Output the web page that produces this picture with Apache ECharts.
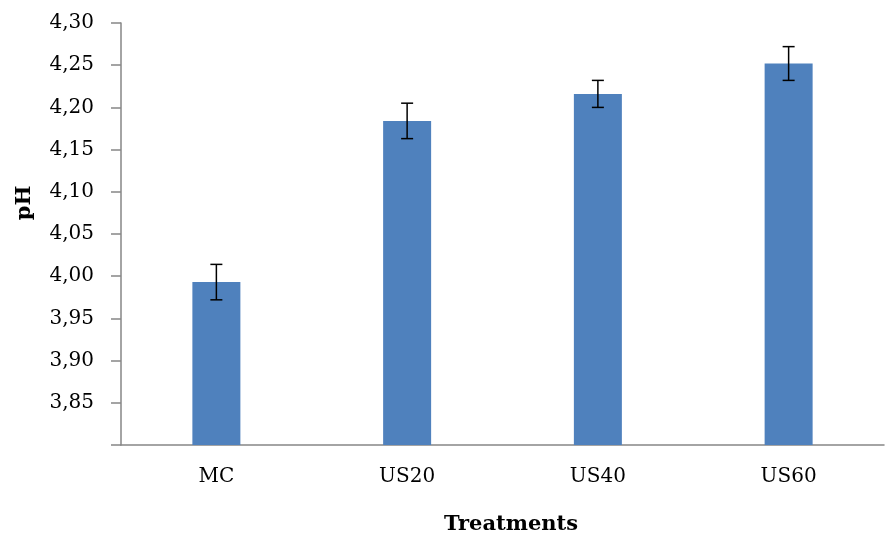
<!DOCTYPE html>
<html><head><meta charset="utf-8">
<script src="https://cdn.jsdelivr.net/npm/echarts@6/dist/echarts.min.js"></script>
<style>html,body{margin:0;padding:0;background:#fff}#c{width:885px;height:536px}</style>
</head><body><div id="c"></div>
<script>
var categories = ['MC', 'US20', 'US40', 'US60'];
var phMeans = [3.993, 4.184, 4.216, 4.252];
var phErrors = [0.021, 0.021, 0.016, 0.020];
var yTicks = { min: 3.80, max: 4.30, step: 0.05 };

var FONT = 'DejaVu Serif';
var chart = echarts.init(document.getElementById('c'));
var errData = categories.map(function (c, i) { return [i, phMeans[i] - phErrors[i], phMeans[i] + phErrors[i]]; });

chart.setOption({
  animation: false,
  grid: { left: 121, top: 23, right: 1, bottom: 91, containLabel: false },
  xAxis: {
    type: 'category', data: categories,
    axisLine: { lineStyle: { color: '#868686', width: 1.5 } },
    axisTick: { show: false },
    axisLabel: { fontFamily: FONT, fontSize: 20, color: '#000', margin: 22 }
  },
  yAxis: {
    type: 'value', min: yTicks.min, max: yTicks.max, interval: yTicks.step,
    splitLine: { show: false },
    axisLine: { show: true, lineStyle: { color: '#868686', width: 1.5 } },
    axisTick: { show: true, length: 10, lineStyle: { color: '#868686', width: 1.5 } },
    axisLabel: {
      fontFamily: FONT, fontSize: 20, color: '#000', margin: 27,
      formatter: function (v) {
        if (Math.abs(v - yTicks.min) < 1e-6) return '';
        return v.toFixed(2).replace('.', ',');
      }
    }
  },
  graphic: [
    { type: 'text', x: 511, y: 525, style: { text: 'Treatments', font: 'bold 21px "DejaVu Serif"', fill: '#000', textAlign: 'center', textVerticalAlign: 'middle' } },
    { type: 'text', rotation: Math.PI / 2, x: 25, y: 203, style: { text: 'pH', font: 'bold 21px "DejaVu Serif"', fill: '#000', textAlign: 'center', textVerticalAlign: 'middle' } }
  ],
  series: [
    { type: 'bar', data: phMeans, barWidth: 48, itemStyle: { color: '#4F81BD' } },
    {
      type: 'custom', data: errData, z: 10,
      renderItem: function (params, api) {
        var x = api.value(0);
        var lo = api.coord([x, api.value(1)]);
        var hi = api.coord([x, api.value(2)]);
        var hw = 6;
        var st = { stroke: '#000', lineWidth: 1.5 };
        return { type: 'group', children: [
          { type: 'line', shape: { x1: lo[0], y1: lo[1], x2: hi[0], y2: hi[1] }, style: st },
          { type: 'line', shape: { x1: lo[0] - hw, y1: lo[1], x2: lo[0] + hw, y2: lo[1] }, style: st },
          { type: 'line', shape: { x1: hi[0] - hw, y1: hi[1], x2: hi[0] + hw, y2: hi[1] }, style: st }
        ] };
      }
    }
  ]
});
</script></body></html>
